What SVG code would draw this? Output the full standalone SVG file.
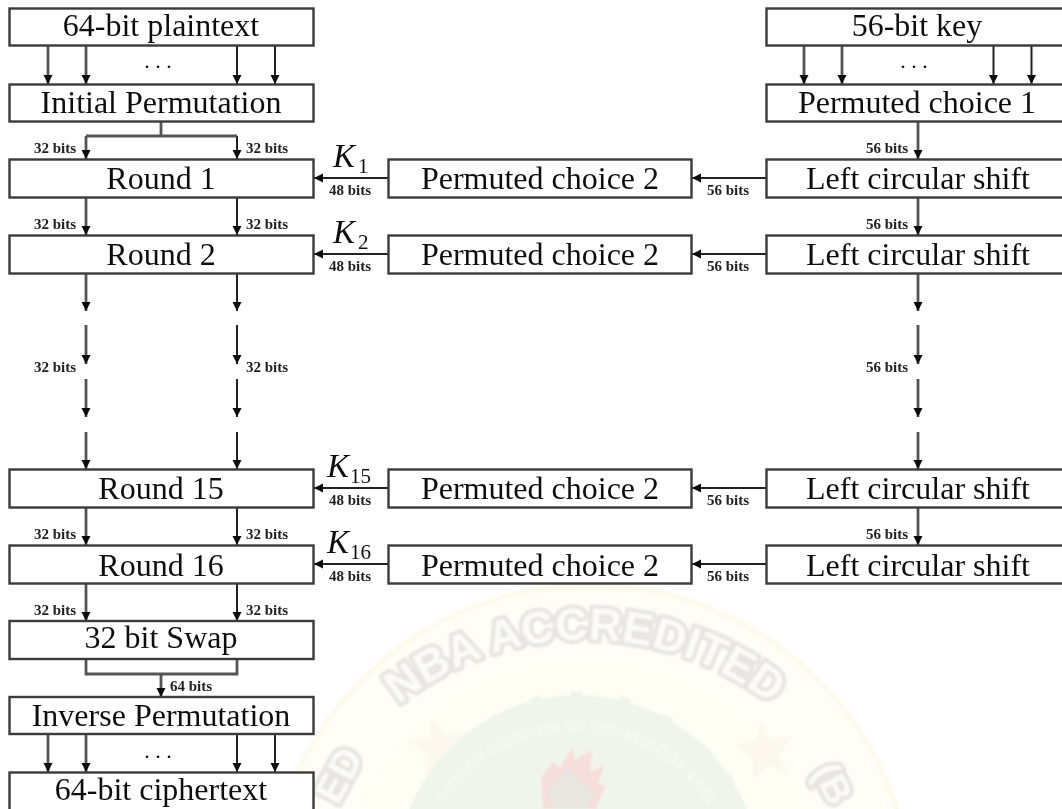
<svg xmlns="http://www.w3.org/2000/svg" xmlns:xlink="http://www.w3.org/1999/xlink" width="1062" height="809" viewBox="0 0 1062 809">
<style>
text{font-family:"Liberation Serif","Times New Roman",serif;fill:#111}
.box{fill:#fff;stroke:#3a3a3a;stroke-width:2.4}
.t{font-size:32px;text-anchor:middle}
.s{font-size:15px;font-weight:bold;fill:#222}
.k{font-size:33px;font-style:italic}
.sub{font-size:21px;font-style:normal}
.dots{font-size:22px;text-anchor:middle}
.c{fill:none;stroke:#222;stroke-width:2}
.g{fill:none;stroke:#555;stroke-width:2.8}
.a{marker-end:url(#ah)}
.wm{font-family:"Liberation Sans",Arial,sans-serif;font-weight:bold}
.ol{fill:#fbfbf7;stroke:#e6e5e1;stroke-width:8;paint-order:stroke;stroke-linejoin:round}
</style>
<defs>
<marker id="ah" markerUnits="userSpaceOnUse" markerWidth="11" markerHeight="11" refX="9" refY="5" orient="auto"><path d="M0,0.5 L9,5 L0,9.5 Z" fill="#111"/></marker>
<filter id="soft" x="-2%" y="-2%" width="104%" height="104%"><feGaussianBlur stdDeviation="0.5"/></filter>
<filter id="wsoft"><feGaussianBlur stdDeviation="0.9"/></filter>
<path id="arc1" d="M355,747 A300,300 0 0 1 815,747"/>
<path id="arc2" d="M428,836 A157,157 0 0 1 724,836"/>
</defs>
<rect width="1062" height="809" fill="#fff"/>
<g id="watermark" filter="url(#wsoft)">
<circle cx="590" cy="907" r="322" fill="#fffdf6" stroke="#fdf9ec" stroke-width="5"/>
<circle cx="585" cy="907" r="250" fill="#fffef5"/>
<path d="M430,718 L447,735 L470,730 L455,750 L466,772 L444,762 L425,778 L428,755 L408,742 L430,738 Z" fill="#fdf8ee"/>
<path d="M760,720 L770,740 L792,738 L778,755 L790,775 L768,765 L752,780 L752,758 L735,745 L756,740 Z" fill="#fdf8ee"/>
<circle cx="578" cy="877" r="182" fill="#f0f5ec"/>
<g fill="#f0f5ec"><rect x="570" y="691" width="12" height="10"/><rect x="530" y="697" width="12" height="10" transform="rotate(-12 536 702)"/><rect x="618" y="697" width="12" height="10" transform="rotate(12 624 702)"/><rect x="490" y="716" width="12" height="10" transform="rotate(-28 496 721)"/><rect x="660" y="716" width="12" height="10" transform="rotate(28 666 721)"/><rect x="453" y="745" width="12" height="10" transform="rotate(-42 459 750)"/><rect x="697" y="745" width="12" height="10" transform="rotate(42 703 750)"/><rect x="428" y="780" width="12" height="10" transform="rotate(-55 434 785)"/><rect x="722" y="775" width="12" height="10" transform="rotate(55 728 780)"/></g>
<path d="M543,809 L541,778 L552,762 L560,768 L572,747 L575,760 L592,750 L590,772 L604,765 L598,785 L606,785 L596,809 Z" fill="#f6dedb"/>
<path d="M552,809 L548,790 L568,768 L582,782 L594,795 L586,809 Z" fill="#e9e7e2"/>
<text class="wm ol" font-size="45"><textPath class="ol" xlink:href="#arc1" href="#arc1" startOffset="50%" text-anchor="middle">NBA ACCREDITED</textPath></text>
<text class="wm" font-size="14.5" style="fill:#fafbf6;font-weight:normal"><textPath xlink:href="#arc2" href="#arc2" startOffset="50%" text-anchor="middle" style="fill:#fafbf6">A REDDY INSTITUTE OF TECHNOLOGY &amp; SCI</textPath></text>
<text class="wm ol" font-size="40" transform="translate(338,806) rotate(-62)">ED</text>
<text class="wm ol" font-size="38" transform="translate(812,772) rotate(62)">(B</text>
</g>
<g filter="url(#soft)">
<g id="connectors">
<path class="g a" d="M48,45V84"/><path class="g a" d="M86,45V84"/><path class="c a" d="M237,45V84"/><path class="c a" d="M275,45V84"/>
<path class="g a" d="M804,45V84"/><path class="g a" d="M842,45V84"/><path class="c a" d="M993.5,45V84"/><path class="c a" d="M1031.5,45V84"/>
<path class="g" d="M161,122V136"/><path class="g a" d="M86,136V159"/><path class="c a" d="M237,136V159"/><path class="g" d="M86,136H237"/>
<path class="g a" d="M918,122V159"/>
<path class="g a" d="M86,198V235"/><path class="c a" d="M237,198V235"/><path class="g a" d="M918,198V235"/>
<path class="g a" d="M86,274V311"/><path class="g a" d="M86,325V364"/><path class="g a" d="M86,379V417"/><path class="g a" d="M86,432V469"/>
<path class="c a" d="M237,274V311"/><path class="c a" d="M237,325V364"/><path class="c a" d="M237,379V417"/><path class="c a" d="M237,432V469"/>
<path class="g a" d="M918,274V311"/><path class="g a" d="M918,325V364"/><path class="g a" d="M918,379V417"/><path class="g a" d="M918,432V469"/>
<path class="g a" d="M86,508V545"/><path class="c a" d="M237,508V545"/><path class="g a" d="M918,508V545"/>
<path class="g a" d="M86,584V621"/><path class="c a" d="M237,584V621"/>
<path class="g" d="M86,660V674H237V660"/><path class="g a" d="M161,674V697"/>
<path class="g a" d="M48,735V772"/><path class="g a" d="M86,735V772"/><path class="c a" d="M237,735V772"/><path class="c a" d="M275,735V772"/>
<path class="c a" d="M388,178H314"/><path class="c a" d="M766,178H692"/>
<path class="c a" d="M388,254H314"/><path class="c a" d="M766,254H692"/>
<path class="c a" d="M388,488H314"/><path class="c a" d="M766,488H692"/>
<path class="c a" d="M388,564H314"/><path class="c a" d="M766,564H692"/>
</g>
<g id="n-plaintext"><rect class="box" x="9.5" y="8.5" width="304" height="37"/><text class="t" x="161" y="36">64-bit plaintext</text></g>
<g id="n-ip"><rect class="box" x="9.5" y="84.5" width="304" height="37"/><text class="t" x="161" y="113">Initial Permutation</text></g>
<g id="n-r1"><rect class="box" x="9.5" y="159.5" width="304" height="38"/><text class="t" x="161" y="189">Round 1</text></g>
<g id="n-r2"><rect class="box" x="9.5" y="235.5" width="304" height="38"/><text class="t" x="161" y="265">Round 2</text></g>
<g id="n-r15"><rect class="box" x="9.5" y="469.5" width="304" height="38"/><text class="t" x="161" y="499">Round 15</text></g>
<g id="n-r16"><rect class="box" x="9.5" y="545.5" width="304" height="38"/><text class="t" x="161" y="576">Round 16</text></g>
<g id="n-swap"><rect class="box" x="9.5" y="621" width="304" height="38"/><text class="t" x="161" y="648">32 bit Swap</text></g>
<g id="n-inv"><rect class="box" x="9.5" y="697" width="304" height="37"/><text class="t" x="161" y="726">Inverse Permutation</text></g>
<g id="n-cipher"><rect class="box" x="9.5" y="772.5" width="304" height="40"/><text class="t" x="161" y="800">64-bit ciphertext</text></g>
<g id="n-key"><rect class="box" x="766.5" y="8.5" width="304" height="37"/><text class="t" x="917" y="36">56-bit key</text></g>
<g id="n-pc1"><rect class="box" x="766.5" y="84.5" width="304" height="37"/><text class="t" x="917" y="113">Permuted choice 1</text></g>
<g id="n-l1"><rect class="box" x="766.5" y="159.5" width="304" height="38"/><text class="t" x="918" y="189">Left circular shift</text></g>
<g id="n-l2"><rect class="box" x="766.5" y="235.5" width="304" height="38"/><text class="t" x="918" y="265">Left circular shift</text></g>
<g id="n-l15"><rect class="box" x="766.5" y="469.5" width="304" height="38"/><text class="t" x="918" y="499">Left circular shift</text></g>
<g id="n-l16"><rect class="box" x="766.5" y="545.5" width="304" height="38"/><text class="t" x="918" y="576">Left circular shift</text></g>
<g id="n-pc2a"><rect class="box" x="388.5" y="159.5" width="303" height="38"/><text class="t" x="540" y="189">Permuted choice 2</text></g>
<g id="n-pc2b"><rect class="box" x="388.5" y="235.5" width="303" height="38"/><text class="t" x="540" y="265">Permuted choice 2</text></g>
<g id="n-pc2c"><rect class="box" x="388.5" y="469.5" width="303" height="38"/><text class="t" x="540" y="499">Permuted choice 2</text></g>
<g id="n-pc2d"><rect class="box" x="388.5" y="545.5" width="303" height="38"/><text class="t" x="540" y="576">Permuted choice 2</text></g>
<g id="labels">
<text class="dots" x="158" y="68">. . .</text><text class="dots" x="914" y="68">. . .</text><text class="dots" x="158" y="758">. . .</text>
<text class="s" x="34" y="153">32 bits</text><text class="s" x="246" y="153">32 bits</text><text class="s" x="866" y="153">56 bits</text>
<text class="s" x="34" y="229">32 bits</text><text class="s" x="246" y="229">32 bits</text><text class="s" x="866" y="229">56 bits</text>
<text class="s" x="34" y="372">32 bits</text><text class="s" x="246" y="372">32 bits</text><text class="s" x="866" y="372">56 bits</text>
<text class="s" x="34" y="539">32 bits</text><text class="s" x="246" y="539">32 bits</text><text class="s" x="866" y="539">56 bits</text>
<text class="s" x="34" y="615">32 bits</text><text class="s" x="246" y="615">32 bits</text>
<text class="s" x="170" y="691">64 bits</text>
<text class="s" x="329" y="195">48 bits</text><text class="s" x="707" y="195">56 bits</text>
<text class="s" x="329" y="271">48 bits</text><text class="s" x="707" y="271">56 bits</text>
<text class="s" x="329" y="505">48 bits</text><text class="s" x="707" y="505">56 bits</text>
<text class="s" x="329" y="581">48 bits</text><text class="s" x="707" y="581">56 bits</text>
<text class="k" x="333" y="167">K<tspan class="sub" dy="6" dx="3">1</tspan></text>
<text class="k" x="333" y="243">K<tspan class="sub" dy="6" dx="3">2</tspan></text>
<text class="k" x="327" y="477">K<tspan class="sub" dy="6" dx="1">15</tspan></text>
<text class="k" x="327" y="553">K<tspan class="sub" dy="6" dx="1">16</tspan></text>
</g>
</g>
</svg>
